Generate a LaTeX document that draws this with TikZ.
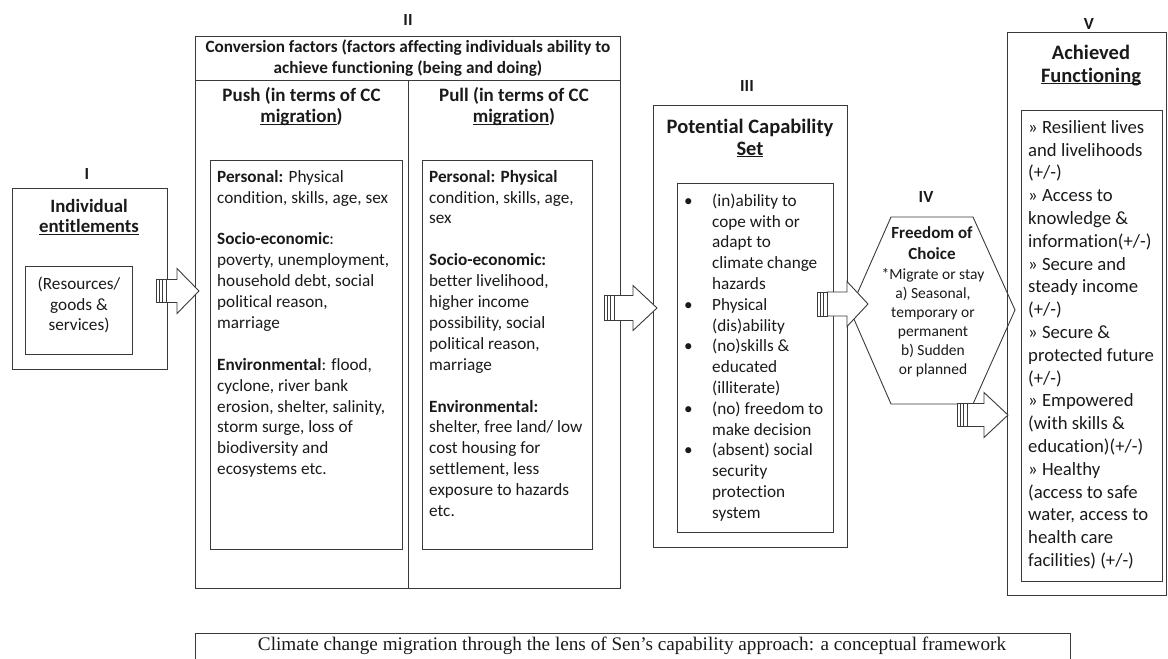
\documentclass[tikz,border=0pt]{standalone}
\usepackage{fontspec}
\setmainfont{Carlito}[Ligatures=NoCommon]
\newfontfamily\capfont{Liberation Serif}
\definecolor{lc}{HTML}{3A3A3A}
\definecolor{tc}{HTML}{1A1A1A}
\newcommand\fst{\rule{0pt}{.75em}}
\newcommand\ul[1]{\underline{\smash{#1}}}
% block arrow: tail x, shaft end x, tip x, centre y, shaft half height
\newcommand\blkarrow[5]{%
  \draw[arr] ({#1+10},{#4-#5}) -- (#2,{#4-#5}) -- (#2,{#4-22.5}) -- (#3,#4)
     -- (#2,{#4+22.5}) -- (#2,{#4+#5}) -- ({#1+10},{#4+#5}) -- cycle;
  \draw[arr] (#1,{#4-#5}) rectangle ({#1+10},{#4+#5});
  \draw[stripe] ({#1+3.3},{#4-#5}) -- ({#1+3.3},{#4+#5})
                ({#1+6.6},{#4-#5}) -- ({#1+6.6},{#4+#5});
}
\tikzset{
  frame/.style={draw=lc, line width=0.9pt, inner sep=0pt, anchor=north west},
  arr/.style={draw=lc, line width=0.9pt, fill=white, line join=miter},
  stripe/.style={draw=lc, line width=0.6pt},
  roman/.style={inner sep=0pt, text=tc, font=\bfseries\fontsize{17}{20}\selectfont},
  body/.style={inner sep=0pt, text=tc, anchor=north west, align=left,
               font=\fontsize{17.2}{20.9}\selectfont},
  head/.style={inner sep=0pt, text=tc, anchor=north, align=center},
}
\begin{document}
\begin{tikzpicture}[x=1pt,y=-1pt]
\useasboundingbox (0,0) rectangle (1168,659);

% ---- frames
\node[frame, minimum width=155, minimum height=181] (boxI) at (12,188) {};
\node[frame, minimum width=107, minimum height=88] (inI) at (25,266) {};
\node[frame, minimum width=425, minimum height=552] (boxII) at (195,36) {};
\coordinate (sepL) at (195,80);
\coordinate (sepR) at (620,80);
\coordinate (divT) at (408,80);
\coordinate (divB) at (408,588);
\draw[draw=lc, line width=0.9pt] (sepL) -- (sepR) (divT) -- (divB);
\node[frame, minimum width=192, minimum height=389] (push) at (210,160) {};
\node[frame, minimum width=170, minimum height=389] (pull) at (422,160) {};
\node[frame, minimum width=194, minimum height=442] (boxIII) at (653,105) {};
\node[frame, minimum width=156, minimum height=349] (inIII) at (677,183) {};
\node[frame, minimum width=159, minimum height=563] (boxV) at (1007,32) {};
\node[frame, minimum width=141, minimum height=471] (inV) at (1021,110) {};
\node[frame, minimum width=875, minimum height=40] (capbox) at (195,633) {};

% ---- hexagon IV
\coordinate (h1) at (891,217);
\coordinate (h2) at (973,217);
\coordinate (h3) at (1015,310);
\coordinate (h4) at (973,404);
\coordinate (h5) at (891,404);
\coordinate (h6) at (850,310);
\draw[draw=lc, line width=0.9pt, line join=miter] (h1) -- (h2) -- (h3) -- (h4) -- (h5) -- (h6) -- cycle;

% ---- block arrows
\blkarrow{156}{177}{199}{291}{11.5}
\blkarrow{604}{633}{657}{308}{12.5}
\blkarrow{817}{847}{868}{304}{12}
\blkarrow{957}{984}{1008}{415}{11.5}

% ---- roman numerals
\node[roman] (lI) at (87,174) {I};
\node[roman] (lII) at (408,20) {II};
\node[roman] (lIII) at (747,86) {III};
\node[roman] (lIV) at (926,197) {IV};
\node[roman] (lV) at (1089,24) {V};

% ---- box I
\node[head, font=\bfseries\fontsize{18.8}{20.5}\selectfont] (tI) at (89,198)
  {\fst Individual\\\ul{entitlements}};
\node[head, font=\fontsize{17.2}{20.9}\selectfont] (rI) at (79,276)
  {\fst(Resources/\\goods \&\\services)};

% ---- box II
\node[head, font=\bfseries\fontsize{17.2}{21}\selectfont] (tII) at (408,39)
  {\fst Conversion factors (factors affecting individuals ability to\\achieve functioning (being and doing)};
\node[head, font=\bfseries\fontsize{19}{21}\selectfont] (tPush) at (301.5,87)
  {\fst Push (in terms of CC\\\ul{migration})};
\node[head, font=\bfseries\fontsize{19}{21}\selectfont] (tPull) at (514,87)
  {\fst Pull (in terms of CC\\\ul{migration})};
\node[body] (bPush) at (217,169)
  {\fst\textbf{Personal:} Physical\\
   condition, skills, age, sex\\[20.9pt]
   \textbf{Socio-economic}:\\
   poverty, unemployment,\\
   household debt, social\\
   political reason,\\
   marriage\\[20.9pt]
   \textbf{Environmental}: flood,\\
   cyclone, river bank\\
   erosion, shelter, salinity,\\
   storm surge, loss of\\
   biodiversity and\\
   ecosystems etc.};
\node[body] (bPull) at (429,169)
  {\fst\textbf{Personal: Physical}\\
   condition, skills, age,\\
   sex\\[20.9pt]
   \textbf{Socio-economic:}\\
   better livelihood,\\
   higher income\\
   possibility, social\\
   political reason,\\
   marriage\\[20.9pt]
   \textbf{Environmental:}\\
   shelter, free land/ low\\
   cost housing for\\
   settlement, less\\
   exposure to hazards\\
   etc.};

% ---- box III
\node[head, font=\bfseries\fontsize{20.5}{22}\selectfont] (tIII) at (750,117.5)
  {\fst Potential Capability\\\ul{Set}};
\node[inner sep=0pt, text=tc, anchor=north west, font=\fontsize{17.2}{20.8}\selectfont] (bIII) at (684,191.5)
  {\begin{tabular}{@{}l@{}l@{}}
   \makebox[28pt][l]{\textbullet} & (in)ability to\\
   & cope with or\\
   & adapt to\\
   & climate change\\
   & hazards\\
   \textbullet & Physical\\
   & (dis)ability\\
   \textbullet & (no)skills \&\\
   & educated\\
   & (illiterate)\\
   \textbullet & (no) freedom to\\
   & make decision\\
   \textbullet & (absent) social\\
   & security\\
   & protection\\
   & system
   \end{tabular}};

% ---- hexagon IV text
\node[head, font=\bfseries\fontsize{17}{21}\selectfont] (tIV) at (932,226)
  {\fst Freedom of\\Choice};
\node[head, font=\fontsize{15.5}{19}\selectfont] (bIV) at (933,268)
  {\fst *Migrate or stay\\a) Seasonal,\\temporary or\\permanent\\b) Sudden\\or planned};

% ---- box V
\node[head, font=\bfseries\fontsize{20.5}{23}\selectfont] (tV) at (1091,43.5)
  {\fst Achieved\\\ul{Functioning}};
\node[body, font=\fontsize{18.7}{22.8}\selectfont] (bV) at (1028,119)
  {\fst » Resilient lives\\
   and livelihoods\\
   (+/-)\\
   » Access to\\
   knowledge \&\\
   information(+/-)\\
   » Secure and\\
   steady income\\
   (+/-)\\
   » Secure \&\\
   protected future\\
   (+/-)\\
   » Empowered\\
   (with skills \&\\
   education)(+/-)\\
   » Healthy\\
   (access to safe\\
   water, access to\\
   health care\\
   facilities) (+/-)};

% ---- caption
\node[inner sep=0pt, text=tc, font=\capfont\fontsize{19.2}{21}\selectfont] (cap) at (632,646)
  {Climate change migration through the lens of Sen’s capability approach: a conceptual framework};
\end{tikzpicture}
\end{document}
